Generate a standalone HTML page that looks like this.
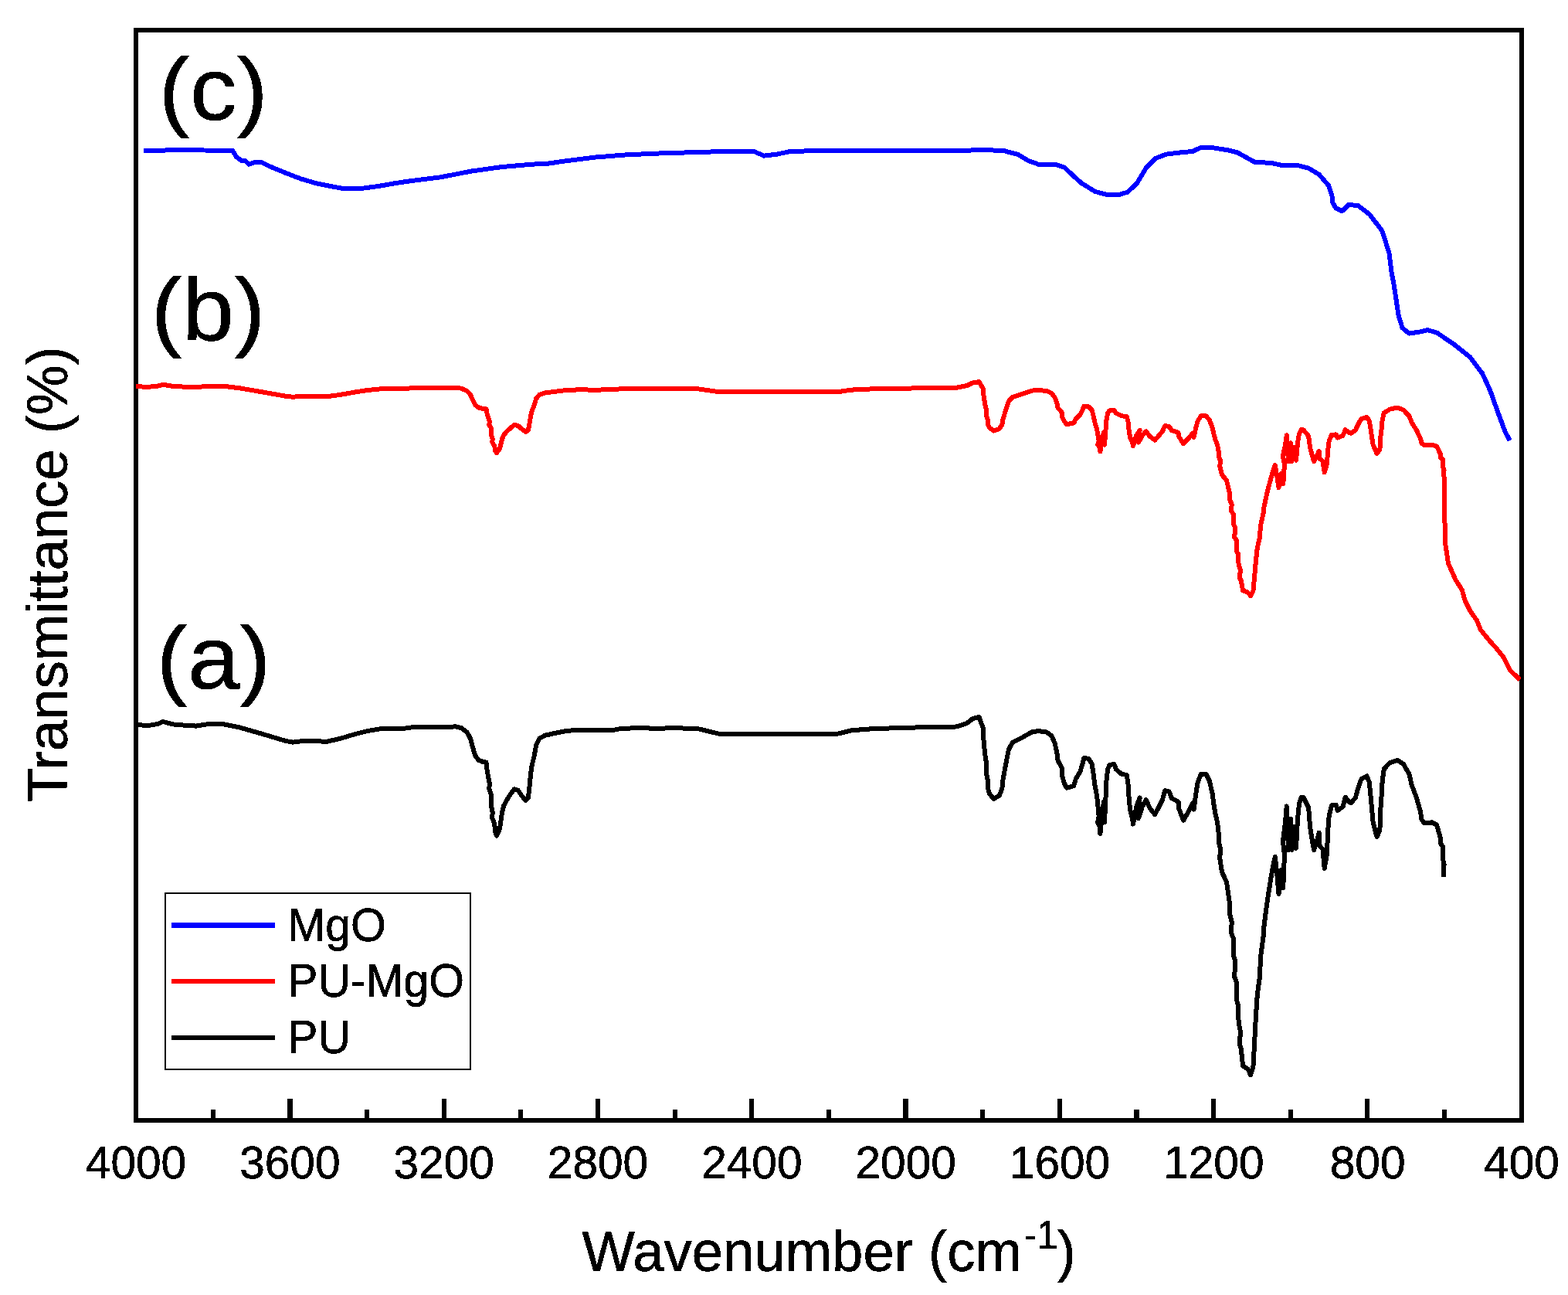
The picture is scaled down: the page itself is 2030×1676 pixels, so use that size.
<!DOCTYPE html>
<html lang="en"><head><meta charset="utf-8"><title>Transmittance (%) - Wavenumber (cm-1)</title>
<style>html,body{margin:0;padding:0;background:#fff;}body{width:2030px;height:1676px;overflow:hidden;}svg{display:block;}text{font-family:'Liberation Sans', sans-serif;fill:#000;stroke:#000;stroke-width:0.6px;stroke-linejoin:round;}</style>
</head><body>
<svg width="2030" height="1676" viewBox="0 0 2030 1676">
<defs><filter id="hard" x="-5%" y="-5%" width="110%" height="110%" color-interpolation-filters="sRGB"><feComponentTransfer><feFuncA type="discrete" tableValues="0 1"/></feComponentTransfer></filter></defs>
<rect x="0" y="0" width="2030" height="1676" fill="#ffffff"/>
<g fill="#000" shape-rendering="crispEdges">
<rect x="173" y="36" width="1800" height="6"/>
<rect x="173" y="1447" width="1800" height="6"/>
<rect x="173" y="36" width="6" height="1417"/>
<rect x="1967" y="36" width="6" height="1417"/>
<rect x="273" y="1436" width="6" height="13"/>
<rect x="372" y="1422" width="7" height="27"/>
<rect x="472" y="1436" width="6" height="13"/>
<rect x="572" y="1422" width="6" height="27"/>
<rect x="671" y="1436" width="6" height="13"/>
<rect x="771" y="1422" width="6" height="27"/>
<rect x="871" y="1436" width="6" height="13"/>
<rect x="970" y="1422" width="6" height="27"/>
<rect x="1070" y="1436" width="6" height="13"/>
<rect x="1169" y="1422" width="7" height="27"/>
<rect x="1269" y="1436" width="6" height="13"/>
<rect x="1369" y="1422" width="6" height="27"/>
<rect x="1468" y="1436" width="7" height="13"/>
<rect x="1568" y="1422" width="6" height="27"/>
<rect x="1668" y="1436" width="6" height="13"/>
<rect x="1767" y="1422" width="6" height="27"/>
<rect x="1867" y="1436" width="6" height="13"/>
</g>
<g shape-rendering="crispEdges">
<rect x="213" y="1155" width="397" height="2" fill="#000"/><rect x="213" y="1383" width="397" height="2" fill="#000"/><rect x="213" y="1155" width="2" height="230" fill="#000"/><rect x="608" y="1155" width="2" height="230" fill="#000"/>
<rect x="222" y="1194" width="134" height="7" fill="#0000ff"/>
<rect x="222" y="1267" width="134" height="6" fill="#ff0000"/>
<rect x="222" y="1340" width="134" height="6" fill="#000000"/></g>
<g fill="none" stroke-width="6" stroke-linejoin="round" stroke-linecap="butt" shape-rendering="crispEdges">
<polyline stroke="#0000ff" points="186.0,194.8 224.0,194.4 264.0,194.5 301.0,194.8 306.0,203.0 312.0,207.6 318.0,208.4 322.0,212.6 331.0,209.6 339.0,210.4 350.0,215.7 370.0,223.9 390.0,231.6 410.0,237.4 430.0,241.4 442.0,243.6 470.0,243.6 490.0,241.0 510.0,237.4 530.0,234.4 570.0,229.4 610.0,221.6 650.0,216.0 690.0,212.6 710.0,211.6 730.0,208.6 770.0,203.6 810.0,200.4 850.0,198.6 890.0,197.4 930.0,196.2 970.0,196.0 977.0,196.4 989.0,201.6 1006.0,199.6 1022.0,196.2 1044.0,195.4 1188.0,194.8 1284.0,194.4 1300.0,195.2 1318.0,200.0 1332.0,208.4 1346.0,213.2 1368.0,213.2 1378.0,216.6 1389.0,227.0 1400.0,237.0 1418.0,248.0 1432.0,251.6 1450.0,251.6 1460.0,248.6 1472.0,237.0 1484.0,217.0 1496.0,205.0 1510.0,199.6 1530.0,197.2 1544.0,196.0 1554.0,191.2 1570.0,191.2 1590.0,194.4 1602.0,197.4 1624.0,209.6 1646.0,211.0 1658.0,213.6 1680.0,214.0 1694.0,217.6 1708.0,226.0 1720.0,240.0 1724.5,254.0 1725.4,262.2 1729.4,269.3 1737.5,273.3 1745.6,265.2 1757.8,265.8 1773.0,277.4 1789.3,298.7 1798.4,327.1 1801.4,351.4 1804.5,367.7 1810.6,408.2 1815.6,424.5 1824.2,431.6 1838.0,429.5 1848.1,427.1 1860.3,430.6 1882.6,445.8 1902.9,462.0 1919.1,483.3 1929.3,505.6 1939.4,534.0 1948.5,558.4 1954.6,570.1"/>
<polyline stroke="#ff0000" points="175.8,500.2 192.0,500.8 204.0,499.6 211.0,497.8 224.0,499.9 238.0,500.6 254.0,501.2 270.0,499.6 288.0,499.6 310.0,502.3 340.0,507.4 370.0,512.8 379.0,513.7 392.0,512.8 410.0,512.8 422.0,513.4 440.0,511.0 460.0,507.4 476.0,505.0 494.0,503.2 524.0,503.0 536.0,502.0 560.0,502.0 585.0,502.0 588.8,501.5 596.9,502.6 604.5,505.9 608.9,510.7 612.1,517.9 615.4,524.4 619.7,527.6 625.2,528.9 629.5,529.3 630.6,535.4 633.8,545.8 633.3,549.7 636.0,554.3 636.0,562.7 637.6,567.9 637.4,572.5 640.4,577.7 640.9,582.8 643.1,586.1 646.9,580.9 648.5,574.4 650.1,567.9 652.3,562.7 657.7,556.9 662.1,553.0 665.9,550.0 670.8,551.0 675.1,554.9 680.5,558.8 683.8,556.9 684.9,551.7 686.0,545.2 687.0,538.7 688.7,531.6 691.9,523.7 694.1,516.0 698.5,510.7 705.5,508.5 717.5,506.9 733.7,504.9 748.9,504.4 770.0,504.6 794.6,504.3 804.5,503.1 831.6,502.7 851.3,503.2 868.5,502.7 903.0,503.2 930.0,507.1 1085.3,507.1 1102.5,504.6 1134.5,503.1 1174.0,502.7 1198.6,501.9 1230.0,502.0 1238.7,501.7 1251.7,499.1 1259.3,495.5 1267.5,494.2 1272.9,503.0 1273.4,511.4 1275.1,522.5 1276.7,528.9 1276.7,537.4 1278.9,543.2 1278.9,549.1 1281.0,553.6 1286.5,557.5 1293.5,555.2 1297.3,549.7 1298.4,543.2 1301.1,534.1 1303.8,525.7 1306.0,519.2 1310.9,514.0 1322.3,510.4 1329.9,507.8 1337.0,505.5 1345.1,505.1 1354.9,505.9 1361.4,508.8 1365.7,514.6 1368.5,522.5 1369.5,527.6 1375.0,534.1 1375.2,540.0 1377.7,545.2 1380.9,549.1 1385.3,548.4 1390.2,547.5 1392.9,541.9 1398.3,536.7 1401.6,530.2 1403.2,526.0 1409.2,526.4 1413.5,530.2 1415.7,538.7 1417.5,547.1 1420.0,554.9 1421.7,564.6 1422.7,571.1 1421.1,575.7 1424.4,579.6 1424.4,584.5 1427.1,567.9 1428.9,560.1 1430.0,575.7 1431.4,558.2 1432.2,545.2 1434.1,534.8 1436.5,531.4 1442.5,530.7 1444.7,534.6 1451.7,538.2 1458.8,539.2 1460.4,545.3 1461.5,555.7 1463.1,566.1 1466.4,573.9 1466.9,577.1 1471.3,563.5 1475.6,556.7 1474.0,572.6 1478.9,563.5 1483.8,558.3 1488.6,564.8 1495.2,569.7 1500.6,563.5 1504.9,558.3 1508.2,551.2 1513.6,551.8 1516.9,557.0 1525.6,560.0 1526.1,564.8 1532.1,574.3 1538.6,567.4 1544.0,560.9 1545.6,565.8 1548.4,553.1 1550.5,545.3 1554.9,538.2 1561.4,538.5 1565.7,543.4 1569.5,553.1 1571.2,560.9 1573.3,568.7 1576.1,575.9 1577.7,584.3 1578.2,592.1 1579.9,596.0 1579.3,603.8 1582.0,614.2 1588.1,622.2 1592.5,640.5 1591.9,646.2 1594.8,653.1 1593.8,661.0 1596.9,665.6 1597.3,679.3 1599.2,682.7 1598.2,695.3 1601.1,699.8 1601.1,713.6 1603.0,717.0 1603.6,730.7 1605.9,737.5 1604.9,747.8 1606.8,751.3 1609.1,764.4 1615.4,766.6 1619.2,771.2 1622.5,764.4 1624.0,747.8 1625.9,726.1 1627.8,709.0 1630.7,696.4 1632.2,679.3 1635.5,664.5 1636.4,656.5 1639.3,642.8 1642.1,631.4 1645.4,618.8 1648.8,607.4 1650.8,602.2 1653.3,616.2 1655.5,631.2 1658.0,618.6 1659.0,612.6 1661.2,626.4 1662.3,612.6 1662.8,600.1 1660.9,590.3 1663.7,577.3 1665.8,563.3 1667.0,582.1 1668.0,597.1 1671.0,573.2 1672.5,597.1 1675.5,579.2 1678.0,595.9 1680.0,573.2 1682.0,561.2 1685.0,556.1 1687.6,556.5 1694.1,564.3 1696.2,579.9 1699.0,590.3 1701.1,597.1 1704.9,590.3 1707.6,583.8 1708.2,593.5 1712.5,596.7 1714.7,611.4 1718.0,600.0 1719.0,583.8 1720.7,570.8 1723.9,562.7 1729.9,562.4 1731.5,566.6 1738.6,563.7 1741.8,556.2 1746.2,559.8 1749.4,560.7 1754.9,556.5 1759.2,547.4 1762.5,542.2 1769.5,539.9 1772.8,544.8 1774.4,554.6 1776.1,565.6 1777.7,576.0 1782.6,587.1 1786.4,581.9 1787.5,564.3 1789.1,551.3 1789.6,544.2 1791.8,534.4 1799.4,529.6 1809.2,527.6 1816.8,530.5 1824.4,538.3 1827.6,546.7 1834.1,557.2 1839.0,567.6 1840.4,573.5 1844.0,576.3 1849.5,576.2 1853.7,575.8 1859.9,577.6 1862.0,581.7 1864.7,587.5 1865.1,592.1 1867.9,594.5 1868.1,604.5 1869.6,608.2 1868.9,612.3 1869.8,619.3 1870.2,667.1 1871.4,705.3 1875.0,729.1 1884.6,750.6 1892.9,763.7 1896.5,776.8 1903.7,791.2 1912.0,803.1 1916.8,815.0 1927.5,828.2 1937.1,838.9 1946.6,850.8 1955.0,867.5 1967.6,879.5"/>
<polyline stroke="#000000" points="176.0,938.0 192.0,939.0 204.0,937.0 211.0,934.0 224.0,937.4 238.0,938.6 254.0,939.6 270.0,937.0 288.0,937.0 310.0,941.4 340.0,950.0 370.0,959.0 379.0,960.6 392.0,959.0 410.0,959.0 422.0,960.0 440.0,956.0 460.0,950.0 476.0,946.0 494.0,943.0 524.0,942.6 536.0,941.0 560.0,940.9 585.0,940.9 588.8,940.1 596.9,942.0 604.5,947.5 608.9,955.6 612.1,967.6 615.4,978.4 619.7,983.8 625.2,986.0 629.5,986.6 630.6,996.9 633.8,1014.2 633.3,1020.8 636.0,1028.4 636.0,1042.5 637.6,1051.2 637.4,1058.8 640.4,1067.5 640.9,1076.1 643.1,1081.6 646.9,1072.9 648.5,1062.0 650.1,1051.2 652.3,1042.5 657.7,1032.7 662.1,1026.2 665.9,1021.3 670.8,1022.9 675.1,1029.4 680.5,1036.0 683.8,1032.7 684.9,1024.0 686.0,1013.2 687.0,1002.3 688.7,990.4 691.9,977.3 694.1,964.3 698.5,955.6 705.5,951.8 717.5,949.1 733.7,945.8 748.9,945.0 770.0,945.3 794.6,944.8 804.5,942.8 831.6,942.1 851.3,943.0 868.5,942.1 903.0,943.0 930.0,949.5 1085.3,949.5 1102.5,945.3 1134.5,942.8 1174.0,942.1 1198.6,940.8 1230.0,940.9 1238.7,940.4 1251.7,936.1 1259.3,930.1 1267.5,927.9 1272.9,942.6 1273.4,956.7 1275.1,975.2 1276.7,986.0 1276.7,1000.1 1278.9,1009.9 1278.9,1019.7 1281.0,1027.3 1286.5,1033.8 1293.5,1030.0 1297.3,1020.8 1298.4,1009.9 1301.1,994.7 1303.8,980.6 1306.0,969.7 1310.9,961.0 1322.3,955.1 1329.9,950.7 1337.0,946.9 1345.1,946.2 1354.9,947.5 1361.4,952.3 1365.7,962.1 1368.5,975.2 1369.5,983.8 1375.0,994.7 1375.2,1004.5 1377.7,1013.2 1380.9,1019.7 1385.3,1018.6 1390.2,1017.0 1392.9,1007.7 1398.3,999.0 1401.6,988.2 1403.2,981.1 1409.2,981.7 1413.5,988.2 1415.7,1002.3 1417.5,1016.4 1420.0,1029.4 1421.7,1045.7 1422.7,1056.6 1421.1,1064.2 1424.4,1070.7 1424.4,1078.9 1427.1,1051.2 1428.9,1038.1 1430.0,1064.2 1431.4,1034.9 1432.2,1013.2 1434.1,995.8 1436.5,990.1 1442.5,989.0 1444.7,995.5 1451.7,1001.5 1458.8,1003.1 1460.4,1013.4 1461.5,1030.8 1463.1,1048.2 1466.4,1061.2 1466.9,1066.6 1471.3,1043.8 1475.6,1032.4 1474.0,1059.0 1478.9,1043.8 1483.8,1035.2 1488.6,1046.0 1495.2,1054.2 1500.6,1043.8 1504.9,1035.2 1508.2,1023.2 1513.6,1024.3 1516.9,1033.0 1525.6,1037.9 1526.1,1046.0 1532.1,1061.8 1538.6,1050.4 1544.0,1039.5 1545.6,1047.6 1548.4,1026.5 1550.5,1013.4 1554.9,1001.5 1561.4,1002.0 1565.7,1010.2 1569.5,1026.5 1571.2,1039.5 1573.3,1052.5 1576.1,1064.5 1577.7,1078.6 1578.2,1091.6 1579.9,1098.1 1579.3,1111.2 1582.0,1128.6 1588.1,1142.0 1592.5,1172.6 1591.9,1182.1 1594.8,1193.6 1593.8,1206.9 1596.9,1214.6 1597.3,1237.5 1599.2,1243.2 1598.2,1264.2 1601.1,1271.8 1601.1,1294.8 1603.0,1300.5 1603.6,1323.4 1605.9,1334.8 1604.9,1352.0 1606.8,1357.8 1609.1,1379.7 1615.4,1383.5 1619.2,1391.2 1622.5,1379.7 1624.0,1352.0 1625.9,1315.8 1627.8,1287.1 1630.7,1266.1 1632.2,1237.5 1635.5,1212.7 1636.4,1199.3 1639.3,1176.4 1642.1,1157.3 1645.4,1136.3 1648.8,1117.2 1650.8,1108.6 1653.3,1132.0 1655.5,1157.0 1658.0,1136.0 1659.0,1126.0 1661.2,1149.0 1662.3,1126.0 1662.8,1105.0 1660.9,1088.6 1663.7,1066.9 1665.8,1043.5 1667.0,1075.0 1668.0,1100.0 1671.0,1060.0 1672.5,1100.0 1675.5,1070.0 1678.0,1098.0 1680.0,1060.0 1682.0,1040.0 1685.0,1031.5 1687.6,1032.1 1694.1,1045.2 1696.2,1071.2 1699.0,1088.6 1701.1,1100.0 1704.9,1088.6 1707.6,1077.7 1708.2,1094.0 1712.5,1099.4 1714.7,1123.9 1718.0,1104.9 1719.0,1077.7 1720.7,1056.0 1723.9,1042.4 1729.9,1041.9 1731.5,1049.0 1738.6,1044.1 1741.8,1031.6 1746.2,1037.6 1749.4,1039.2 1754.9,1032.1 1759.2,1016.9 1762.5,1008.2 1769.5,1004.4 1772.8,1012.6 1774.4,1028.9 1776.1,1047.3 1777.7,1064.7 1782.6,1083.2 1786.4,1074.5 1787.5,1045.2 1789.1,1023.4 1789.6,1011.5 1791.8,995.2 1799.4,987.1 1809.2,983.8 1816.8,988.7 1824.4,1001.7 1827.6,1015.8 1834.1,1033.2 1839.0,1050.6 1840.4,1060.5 1844.0,1065.3 1849.5,1065.0 1853.7,1064.3 1859.9,1067.4 1862.0,1074.3 1864.7,1084.0 1865.1,1091.6 1867.9,1095.7 1868.1,1112.4 1869.6,1118.6 1868.9,1125.5 1869.0,1134.8"/>
</g>
<g filter="url(#hard)">
<text transform="translate(372.20 1217.90) scale(1.0040 1.0300)" font-size="58.60">MgO</text>
<text transform="translate(372.20 1289.80) scale(1.0040 1.0300)" font-size="58.60">PU-MgO</text>
<text transform="translate(372.20 1362.80) scale(1.0040 1.0300)" font-size="58.60">PU</text>
<text transform="translate(205.60 155.20) scale(1.0440 0.9950)" font-size="116.00" stroke-width="0.25">(c)</text>
<text transform="translate(195.50 440.40) scale(1.0440 0.9950)" font-size="116.00" stroke-width="0.25">(b)</text>
<text transform="translate(202.60 891.30) scale(1.0440 0.9950)" font-size="116.00" stroke-width="0.25">(a)</text>
<text transform="translate(110.81 1524.50)" font-size="58.60">4000</text>
<text transform="translate(310.15 1524.50)" font-size="58.60">3600</text>
<text transform="translate(509.48 1524.50)" font-size="58.60">3200</text>
<text transform="translate(708.81 1524.50)" font-size="58.60">2800</text>
<text transform="translate(908.15 1524.50)" font-size="58.60">2400</text>
<text transform="translate(1107.48 1524.50)" font-size="58.60">2000</text>
<text transform="translate(1306.81 1524.50)" font-size="58.60">1600</text>
<text transform="translate(1506.15 1524.50)" font-size="58.60">1200</text>
<text transform="translate(1721.78 1524.50)" font-size="58.60">800</text>
<text transform="translate(1921.11 1524.50)" font-size="58.60">400</text>
<text transform="translate(753.40 1644.80) scale(1.0030 1.0300)" font-size="72.30">Wavenumber (cm<tspan font-size="49.50" dx="3" dy="-27.7">-1</tspan><tspan dx="-1.5" dy="27.7">)</tspan></text>
<text transform="translate(86.40 1037.80) rotate(-90) scale(1.0030 1.0250)" font-size="72.30">Transmittance (%)</text>
</g>
</svg></body></html>
